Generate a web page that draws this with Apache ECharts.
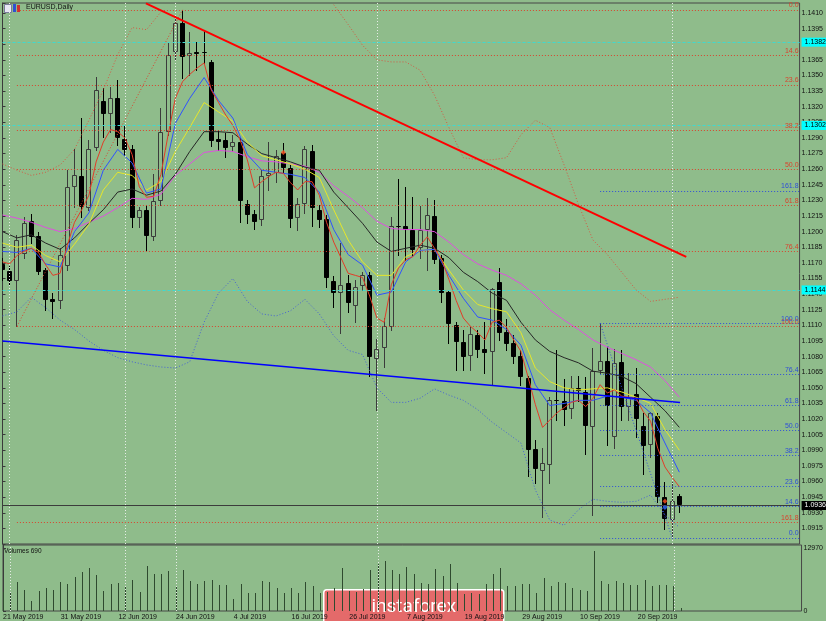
<!DOCTYPE html>
<html><head><meta charset="utf-8">
<script src="https://cdn.jsdelivr.net/npm/echarts@6/dist/echarts.min.js"></script>
<style>html,body{margin:0;padding:0;background:#8fbc8b;}#c{width:826px;height:621px;}</style>
</head><body><div id="c"></div>
<script>
// ---------- DATA ----------
const dateLabels = ['21 May 2019','31 May 2019','12 Jun 2019','24 Jun 2019','4 Jul 2019','16 Jul 2019','26 Jul 2019','7 Aug 2019','19 Aug 2019','29 Aug 2019','10 Sep 2019','20 Sep 2019'];

const opens = [1.1169,1.1162,1.1153,1.1179,1.1210,1.1196,1.1163,1.1135,1.1133,1.1167,
1.1243,1.1253,1.1223,1.1280,1.1325,1.1313,1.1328,1.1289,1.1279,1.1213,
1.1221,1.1195,1.1229,1.1296,1.1373,1.1400,1.1369,1.1373,1.1373,1.1363,
1.1289,1.1288,1.1281,1.1286,1.1227,1.1217,1.1211,1.1253,1.1256,1.1276,
1.1261,1.1213,1.1227,1.1277,1.1221,1.1212,1.1153,1.1141,1.1151,1.1129,
1.1148,1.1158,1.1078,1.1088,1.1108,1.1205,1.1205,1.1202,1.1184,1.1202,
1.1215,1.1175,1.1142,1.1110,1.1094,1.1081,1.1101,1.1087,1.1084,1.1152,
1.1104,1.1093,1.1081,1.1059,1.0991,1.0970,1.0976,1.1038,1.1037,1.1030,
1.1050,1.1046,1.1012,1.1066,1.1076,1.1003,1.1075,1.1032,1.1044,1.1013,
1.0995,1.1023,1.0945,1.0923,1.0946];
const highs = [1.1175,1.1167,1.1197,1.1214,1.1217,1.1200,1.1165,1.1141,1.1184,1.1259,
1.1279,1.1309,1.1288,1.1349,1.1338,1.1339,1.1346,1.1301,1.1283,1.1224,
1.1226,1.1255,1.1319,1.1382,1.1408,1.1413,1.1392,1.1382,1.1394,1.1365,
1.1298,1.1295,1.1293,1.1290,1.1230,1.1221,1.1259,1.1286,1.1278,1.1285,
1.1264,1.1232,1.1282,1.1283,1.1226,1.1216,1.1157,1.1189,1.1158,1.1154,
1.1161,1.1161,1.1097,1.1117,1.1214,1.1251,1.1243,1.1233,1.1225,1.1232,
1.1230,1.1178,1.1144,1.1113,1.1106,1.1108,1.1106,1.1113,1.1146,1.1165,
1.1116,1.1101,1.1086,1.1061,1.1000,1.0992,1.1041,1.1086,1.1058,1.1061,
1.1061,1.1060,1.1088,1.1112,1.1089,1.1087,1.1086,1.1064,1.1069,1.1026,
1.1027,1.1026,1.0960,1.0960,1.0948];
const lows = [1.1154,1.1150,1.1109,1.1175,1.1189,1.1159,1.1125,1.1117,1.1127,1.1163,
1.1224,1.1214,1.1221,1.1278,1.1291,1.1296,1.1283,1.1274,1.1204,1.1204,
1.1182,1.1192,1.1226,1.1293,1.1365,1.1348,1.1350,1.1355,1.1362,1.1282,
1.1278,1.1272,1.1277,1.1209,1.1208,1.1203,1.1206,1.1240,1.1248,1.1257,
1.1204,1.1202,1.1218,1.1205,1.1204,1.1147,1.1128,1.1103,1.1123,1.1113,
1.1144,1.1061,1.1029,1.1070,1.1106,1.1178,1.1173,1.1178,1.1175,1.1163,
1.1170,1.1132,1.1093,1.1067,1.1067,1.1067,1.1080,1.1064,1.1053,1.1096,
1.1086,1.1074,1.1053,1.0965,1.0959,1.0926,1.0959,1.1019,1.1014,1.1021,
1.1037,1.0986,1.0928,1.1064,1.0995,1.0992,1.1019,1.1019,1.1003,1.0967,
1.0984,1.0940,1.0914,1.0906,1.0931];
const closes = [1.1163,1.1153,1.1192,1.1208,1.1195,1.1161,1.1134,1.1132,1.1178,1.1243,
1.1254,1.1224,1.1279,1.1336,1.1313,1.1328,1.1290,1.1278,1.1213,1.1221,
1.1196,1.1229,1.1296,1.1370,1.1400,1.1368,1.1372,1.1371,1.1372,1.1287,
1.1286,1.1280,1.1286,1.1229,1.1216,1.1209,1.1253,1.1256,1.1273,1.1261,
1.1212,1.1227,1.1279,1.1223,1.1211,1.1155,1.1141,1.1149,1.1131,1.1147,
1.1158,1.1080,1.1087,1.1109,1.1205,1.1204,1.1202,1.1182,1.1202,1.1216,
1.1173,1.1141,1.1111,1.1094,1.1080,1.1102,1.1086,1.1083,1.1145,1.1103,
1.1092,1.1080,1.1060,1.0990,1.0972,1.0978,1.1038,1.1037,1.1029,1.1050,
1.1047,1.1013,1.1066,1.1076,1.1033,1.1074,1.1032,1.1040,1.1020,1.0994,
1.1026,1.0945,1.0924,1.0941,1.0937];
const volumes = [4000,3770,5970,4320,2120,4180,4740,4390,5910,5620,
7000,8090,8850,7410,4180,5620,5770,5150,6320,3910,
9200,7680,7680,8170,4940,8500,6120,5500,6180,6440,
5420,5350,2410,5560,3640,3770,6120,5970,4800,3710,
4800,3710,5970,5080,3710,4000,4670,8850,4200,4000,
4500,8380,9680,10230,8500,7680,9060,7680,5700,5560,
8650,7210,9610,5830,3500,3800,3600,5560,7680,8850,
5210,5080,5630,5630,3710,6800,5150,5910,5700,4740,
4260,4050,12350,6120,5560,6120,5700,5350,5350,6320,
5210,5420,5350,5080,690];

// moving average (red) for every bar
const maRed = [1.1171,1.1169,1.1177,1.1181,1.1184,1.1180,1.1168,1.1158,1.1160,1.1187,
1.1209,1.1221,1.1235,1.1267,1.1286,1.1298,1.1296,1.1290,1.1274,1.1243,
1.1233,1.1234,1.1255,1.1293,1.1328,1.1344,1.1351,1.1357,1.1362,1.1336,
1.1324,1.1312,1.1302,1.1288,1.1269,1.1242,1.1248,1.1253,1.1257,1.1256,
1.1247,1.1240,1.1248,1.1248,1.1235,1.1209,1.1190,1.1175,1.1160,1.1158,
1.1156,1.1138,1.1117,1.1113,1.1149,1.1165,1.1173,1.1176,1.1187,1.1195,
1.1184,1.1173,1.1154,1.1134,1.1117,1.1109,1.1103,1.1096,1.1113,1.1115,
1.1108,1.1096,1.1085,1.1060,1.1034,1.1012,1.1019,1.1026,1.1031,1.1036,
1.1038,1.1032,1.1040,1.1053,1.1045,1.1048,1.1042,1.1041,1.1040,1.1027,
1.1018,1.0992,1.0974,1.0964,1.0955];
// slower lines, read at every second bar (bars 0,2,4,...,94)
const maBlue = [1.1181,1.1180,1.1184,1.1169,1.1166,1.1200,1.1218,1.1259,1.1279,1.1266,
1.1237,1.1241,1.1304,1.1328,1.1348,1.1326,1.1309,1.1274,1.1259,1.1257,
1.1255,1.1252,1.1238,1.1202,1.1178,1.1168,1.1139,1.1142,1.1171,1.1182,
1.1183,1.1158,1.1136,1.1118,1.1115,1.1106,1.1091,1.1053,1.1033,1.1035,
1.1038,1.1038,1.1042,1.1041,1.1038,1.1026,1.0997,1.0969];
const maYellow = [1.1189,1.1185,1.1187,1.1177,1.1171,1.1188,1.1207,1.1240,1.1257,1.1254,
1.1240,1.1248,1.1277,1.1300,1.1324,1.1315,1.1306,1.1286,1.1273,1.1269,
1.1265,1.1260,1.1252,1.1221,1.1192,1.1171,1.1158,1.1158,1.1176,1.1182,
1.1183,1.1163,1.1144,1.1130,1.1126,1.1123,1.1103,1.1069,1.1056,1.1050,
1.1048,1.1049,1.1050,1.1046,1.1041,1.1035,1.1010,1.0990];
const maBlack = [1.1200,1.1194,1.1197,1.1189,1.1183,1.1194,1.1208,1.1221,1.1238,1.1241,
1.1235,1.1239,1.1255,1.1277,1.1296,1.1296,1.1295,1.1284,1.1275,1.1271,
1.1267,1.1262,1.1259,1.1238,1.1223,1.1208,1.1190,1.1181,1.1184,1.1187,
1.1184,1.1175,1.1161,1.1152,1.1141,1.1134,1.1113,1.1096,1.1085,1.1079,
1.1074,1.1066,1.1064,1.1061,1.1054,1.1041,1.1028,1.1012];
const maMagenta = [1.1216,1.1213,1.1209,1.1204,1.1200,1.1203,1.1209,1.1215,1.1223,1.1232,
1.1231,1.1236,1.1254,1.1265,1.1276,1.1278,1.1277,1.1272,1.1268,1.1267,
1.1265,1.1263,1.1257,1.1244,1.1234,1.1223,1.1210,1.1203,1.1202,1.1202,
1.1200,1.1190,1.1178,1.1169,1.1163,1.1158,1.1150,1.1139,1.1125,1.1115,
1.1106,1.1096,1.1089,1.1083,1.1077,1.1070,1.1057,1.1041];
const bandUpper = [1.1265,1.1259,1.1254,1.1257,1.1264,1.1279,1.1307,1.1336,1.1370,1.1396,
1.1394,1.1411,null,null,null,null,null,null,null,null,
null,null,null,1.1418,1.1399,1.1379,1.1365,1.1363,1.1363,1.1355,
1.1331,1.1300,1.1271,1.1269,1.1269,1.1271,1.1293,1.1307,1.1300,1.1264,
1.1226,1.1192,1.1178,1.1161,1.1144,1.1133,1.1135,1.1137];
const bandLower = [1.1119,1.1123,1.1137,1.1127,1.1115,1.1106,1.1095,1.1086,1.1079,1.1075,
1.1072,1.1070,1.1069,1.1075,1.1113,1.1141,1.1155,1.1133,1.1121,1.1119,
1.1124,1.1135,1.1121,1.1100,1.1086,1.1082,1.1050,1.1036,1.1036,1.1040,
1.1049,1.1043,1.1038,1.1029,1.1017,1.1007,1.0997,1.0952,1.0923,1.0918,
1.0933,1.0943,1.0941,1.0940,1.0941,1.0947,1.0928,1.0916];

const fibLabels = ['0.0','14.6','23.6','38.2','50.0','61.8','76.4','100.0','161.8'];
const redFibLevels = [1.1413,1.1369,1.1341,1.1297,1.1260,1.1225,1.1181,1.1109,1.0921];
const blueFibLevels = [1.0906,1.0936,1.0955,1.0985,1.1009,1.1033,1.1063,1.1112,1.1239];
const redFibStartBar = 2, blueFibStartBar = 83;
const redFibBase = [[2,1.1109],[25,1.1413]];
const blueFibBase = [[83,1.1112],[93,1.0906]];
const cyanLevels = [1.1382,1.1302,1.1144];
const lastPrice = 1.0937, lastPriceText = '1.09367';
const redTrend = [[19.92,1.14193],[94.96,1.11758]];
const blueTrend = [[0,1.1095],[94.1,1.1036]];
const vLineBars = [1,17,24,52,93];
const redMarks = [[39,1.1276],[92,1.0941]];
const blueMarks = [[92,1.0935]];
const volTop = 12970;

// ---------- CHART ----------
const BG = '#8fbc8b';
const X_MAX = 110.7;
const FONT = 'Liberation Sans';
const chart = echarts.init(document.getElementById('c'));

const candleData = opens.map((o,i)=>[i,o,highs[i],lows[i],closes[i]]);
const even = arr => arr.map((v,k)=>[2*k, v]);

function line(data, color, extra) {
  return Object.assign({type:'line', xAxisIndex:0, yAxisIndex:0, data, symbol:'none', showSymbol:false,
    silent:true, clip:true, connectNulls:false, z:4,
    lineStyle:{color, width:1}}, extra||{});
}
function fibSeries(levels, startBar, color) {
  return {type:'line', xAxisIndex:0, yAxisIndex:0, data:[], silent:true, z:1,
    markLine:{silent:true, symbol:['none','none'], animation:false,
      lineStyle:{color, type:[1,2], width:1},
      label:{show:true, position:'insideEndTop', color, fontSize:7, fontFamily:FONT, distance:1, formatter:'{b}'},
      data: levels.map((v,k)=>[{name:fibLabels[k], coord:[startBar, v]}, {coord:[X_MAX, v]}])}};
}
function levelSeries(levels, texts, lineColor, lineType, boxColor, textColor) {
  return {type:'line', xAxisIndex:0, yAxisIndex:0, data:[], silent:true, z:1,
    markLine:{silent:true, symbol:['none','none'], animation:false,
      lineStyle:{color:lineColor, type:lineType, width:1},
      label:{show:true, position:'end', distance:2, backgroundColor:boxColor, color:textColor, fontSize:7, fontFamily:FONT, padding:[1,3], formatter:'{b}'},
      data: levels.map((v,k)=>[{name:texts[k], coord:[0, v]}, {coord:[X_MAX, v]}])}};
}

const option = {
  animation:false,
  backgroundColor:BG,
  textStyle:{fontFamily:FONT},
  grid:[
    {left:2.5, top:3, width:801.5, height:541, show:true, borderColor:'#474747', borderWidth:1},
    {left:2.5, top:545, width:801.5, height:66, show:true, borderColor:'#474747', borderWidth:1}
  ],
  xAxis:[
    {type:'value', gridIndex:0, min:0, max:X_MAX, show:false},
    {type:'value', gridIndex:1, min:0, max:X_MAX, interval:8,
      axisLine:{show:false}, axisTick:{show:false}, splitLine:{show:false},
      axisLabel:{fontSize:7, fontFamily:FONT, color:'#111', align:'left', margin:3, showMaxLabel:false,
        formatter:v=>{const k=Math.round(v/8); return (Math.abs(v-8*k)<1e-6 && k<dateLabels.length)?dateLabels[k]:'';}}}
  ],
  yAxis:[
    {type:'value', gridIndex:0, position:'right', min:1.0900, max:1.14196, interval:0.0015,
      axisLine:{show:true, lineStyle:{color:'#3a3a3a'}}, axisTick:{show:true, length:3, lineStyle:{color:'#3a3a3a'}},
      splitLine:{show:false},
      axisLabel:{fontSize:7, fontFamily:FONT, color:'#111', margin:2,
        formatter:v=>{const k=(v-1.09)/0.0015; return (Math.abs(k-Math.round(k))<1e-3 && Math.round(k)>0)?v.toFixed(4):'';}}},
    {type:'value', gridIndex:1, position:'right', min:0, max:13588, interval:volTop,
      axisLine:{show:true, lineStyle:{color:'#3a3a3a'}}, axisTick:{show:true, length:3, lineStyle:{color:'#3a3a3a'}},
      splitLine:{show:false},
      axisLabel:{fontSize:7, fontFamily:FONT, color:'#111', margin:2, showMaxLabel:false,
        formatter:v=> v===0?'0':(Math.abs(v-volTop)<1?String(volTop):'')}}
  ],
  series:[
    // vertical dotted separators
    {type:'line', xAxisIndex:0, yAxisIndex:0, data:[], z:1,
      markLine:{silent:true, symbol:['none','none'], animation:false, label:{show:false},
        lineStyle:{color:'#e6ece6', type:[1,2], width:1}, data:vLineBars.map(b=>({xAxis:b}))}},
    {type:'line', xAxisIndex:1, yAxisIndex:1, data:[], z:1,
      markLine:{silent:true, symbol:['none','none'], animation:false, label:{show:false},
        lineStyle:{color:'#e6ece6', type:[1,2], width:1}, data:vLineBars.map(b=>({xAxis:b}))}},
    fibSeries(redFibLevels, redFibStartBar, '#d9432e'),
    fibSeries(blueFibLevels, blueFibStartBar, '#2f4fd8'),
    levelSeries(cyanLevels, cyanLevels.map(v=>v.toFixed(4)), '#3fd9d0', [3,2], '#00ffff', '#000'),
    levelSeries([lastPrice], [lastPriceText], '#3c3c3c', 'solid', '#000', '#fff'),
    // candles
    {type:'custom', xAxisIndex:0, yAxisIndex:0, data:candleData, clip:true, z:2, silent:true,
      encode:{x:0, y:[1,2,3,4]},
      renderItem:(params, api)=>{
        const i=api.value(0), o=api.value(1), h=api.value(2), l=api.value(3), c=api.value(4);
        const pO=api.coord([i,o]), pC=api.coord([i,c]), pH=api.coord([i,h]), pL=api.coord([i,l]);
        const cx=Math.floor(pO[0]);
        const bull=c>o;
        let top=Math.round(Math.min(pO[1],pC[1])), bot=Math.round(Math.max(pO[1],pC[1]));
        if(bot-top<1) bot=top+1;
        const edge = bull ? '#3b3b3b' : '#000';
        return {type:'group', children:[
          {type:'line', shape:{x1:cx+0.5, y1:Math.round(pH[1]), x2:cx+0.5, y2:Math.round(pL[1])+1}, style:{stroke:edge, lineWidth:1}},
          {type:'rect', shape:{x:cx-1.5, y:top+0.5, width:4, height:Math.max(bot-top-1,0)}, style:{fill:bull?BG:'#000', stroke:edge, lineWidth:1}}
        ]};
      }},
    // bands
    line(even(bandUpper), '#d25a44', {lineStyle:{color:'#d25a44', width:1, type:[1,2]}, z:3}),
    line(even(bandLower), '#4662d4', {lineStyle:{color:'#4662d4', width:1, type:[1,2]}, z:3}),
    // moving averages
    line(even(maMagenta), '#e04ee0'),
    line(even(maBlack), '#262626'),
    line(even(maYellow), '#e6e62a'),
    line(even(maBlue), '#2f52ff'),
    line(maRed.map((v,i)=>[i,v]), '#e23c28'),
    // fib base diagonals
    line(redFibBase, '#d9432e', {lineStyle:{color:'#d9432e', width:1, type:[1,2]}, z:3}),
    line(blueFibBase, '#2f4fd8', {lineStyle:{color:'#2f4fd8', width:1, type:[1,2]}, z:3}),
    // trend lines
    line(redTrend, '#ff0000', {lineStyle:{color:'#ff0000', width:2}, z:5}),
    line(blueTrend, '#0000ff', {lineStyle:{color:'#0000ff', width:1.5}, z:5}),
    // markers
    {type:'scatter', xAxisIndex:0, yAxisIndex:0, data:redMarks, symbol:'diamond', symbolSize:5, itemStyle:{color:'#ff5020'}, z:6, silent:true},
    {type:'scatter', xAxisIndex:0, yAxisIndex:0, data:blueMarks, symbol:'diamond', symbolSize:5, itemStyle:{color:'#2f6cff'}, z:6, silent:true},
    // volumes
    {type:'custom', xAxisIndex:1, yAxisIndex:1, data:volumes.map((v,i)=>[i,v]), clip:true, z:2, silent:true,
      encode:{x:0, y:1},
      renderItem:(params, api)=>{
        const p0=api.coord([api.value(0),0]), p1=api.coord([api.value(0),api.value(1)]);
        const x=Math.floor(p0[0])+0.5;
        return {type:'line', shape:{x1:x, y1:p0[1], x2:x, y2:Math.round(p1[1])}, style:{stroke:'#2f4a2f', lineWidth:1}};
      }}
  ],
  graphic:[
    {type:'rect', left:4, top:4, shape:{width:7, height:8}, style:{fill:'#e8e8f4', stroke:'#7a7a9a', lineWidth:1}},
    {type:'rect', left:13, top:4, shape:{width:3, height:8}, style:{fill:'#3050d0'}},
    {type:'rect', left:17, top:5, shape:{width:3, height:7}, style:{fill:'#d03030'}},
    {type:'text', left:26, top:4, style:{text:'EURUSD,Daily', fill:'#111', font:'7px "Liberation Sans"'}},
    {type:'text', left:4, top:548, style:{text:'Volumes 690', fill:'#111', font:'6.5px "Liberation Sans"'}},
    {type:'group', left:323, top:589, children:[
      {type:'rect', shape:{x:0, y:0, width:180, height:40, r:3}, style:{fill:'#e46a6a', stroke:'#ffffff', lineWidth:1.5}},
      {type:'text', x:90, y:17, style:{text:'instaforex', fill:'#ffffff', font:'19px Roboto', align:'center', verticalAlign:'middle'}}
    ]}
  ]
};
chart.setOption(option);
</script></body></html>
